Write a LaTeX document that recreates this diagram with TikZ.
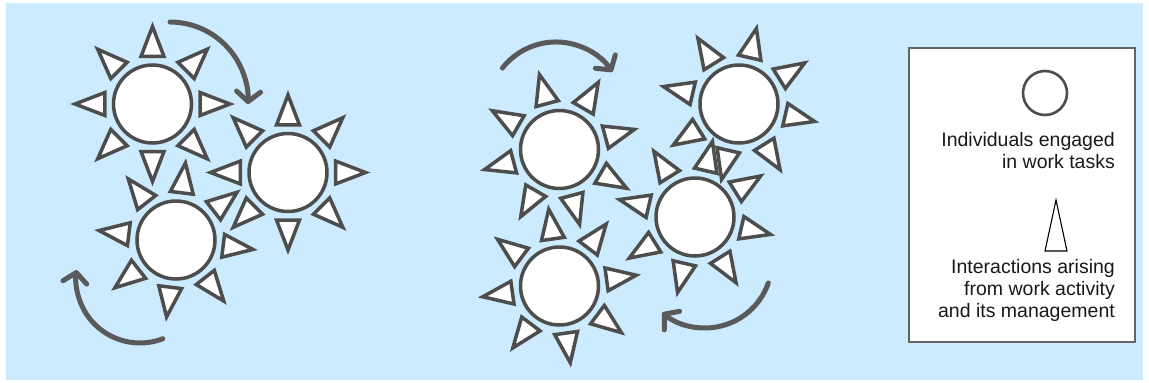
\documentclass[tikz,border=0pt]{standalone}
\usepackage{fontspec}
\setmainfont{Liberation Sans}
\usetikzlibrary{arrows.meta}
\definecolor{bgblue}{RGB}{204,235,255}
\definecolor{ink}{RGB}{77,77,77}
\definecolor{arrowgray}{RGB}{90,90,90}
\definecolor{boxgray}{RGB}{100,100,100}
\tikzset{
  ray/.style={draw=ink, fill=white, line width=3.5pt, line join=miter},
  person/.style={circle, draw=ink, fill=white, line width=3.5pt, minimum size=78pt, inner sep=0pt},
  flow/.style={draw=arrowgray, line width=5pt, line cap=round, -{Straight Barb[length=10pt,width=24pt,round]}},
  legendtext/.style={font=\fontsize{19.5}{22}\selectfont, align=right, inner sep=0pt, anchor=base east, text=black!90},
}
\newcommand{\drawsun}[4]{%
  \begin{scope}[shift={(#2,#3)}, rotate=#4]
    \foreach \a in {0,45,...,315}{
      \draw[ray] ({\a-13.6}:48.9) -- ({\a+13.6}:48.9) -- (\a:77.5) -- cycle;
    }
  \end{scope}
  \node[person] (#1) at (#2,#3) {};
}
\begin{document}
\begin{tikzpicture}[x=1pt,y=-1pt]
\useasboundingbox (0,0) rectangle (1149,383);
\fill[bgblue] (6,3) rectangle (1143,380);
% left cluster
\drawsun{sunA}{152.5}{104}{0}
\drawsun{sunB}{288}{172.5}{0}
\drawsun{sunC}{176}{240}{-7}
% right cluster
\drawsun{sunE}{739}{104}{-13}
\drawsun{sunF}{695}{217}{-13}
\drawsun{sunD}{559.5}{149.5}{15}
\drawsun{sunG}{559.5}{286}{8}
% rotation arrows
\coordinate (f1s) at (170,22);
\coordinate (f2s) at (162.9,338.7);
\coordinate (f3s) at (502.4,68.1);
\coordinate (f4s) at (768.3,283);
\draw[flow] (f1s) arc[start angle=-90, end angle=3, radius=78];
\draw[flow] (f2s) arc[start angle=69, end angle=188, radius=64];
\draw[flow] (f3s) arc[start angle=-142, end angle=-34, radius=68];
\draw[flow] (f4s) arc[start angle=19.2, end angle=129.6, radius=67];
% legend
\node[draw=boxgray, fill=white, line width=1.5pt, minimum width=226pt, minimum height=294pt, inner sep=0pt] (legend) at (1022,195) {};
\node[circle, draw=ink, fill=white, line width=2.6pt, minimum size=44pt, inner sep=0pt] (legcircle) at (1045,93) {};
\node[legendtext] (legA) at (1115,168) {Individuals engaged\\in work tasks};
\coordinate (lt1) at (1045,251);
\coordinate (lt2) at (1067,251);
\coordinate (lt3) at (1056,200);
\draw[black, fill=white, line width=1.1pt, line join=miter] (lt1) -- (lt2) -- (lt3) -- cycle;
\node[legendtext] (legB) at (1115,317) {Interactions arising\\from work activity\\and its management};
\end{tikzpicture}
\end{document}
